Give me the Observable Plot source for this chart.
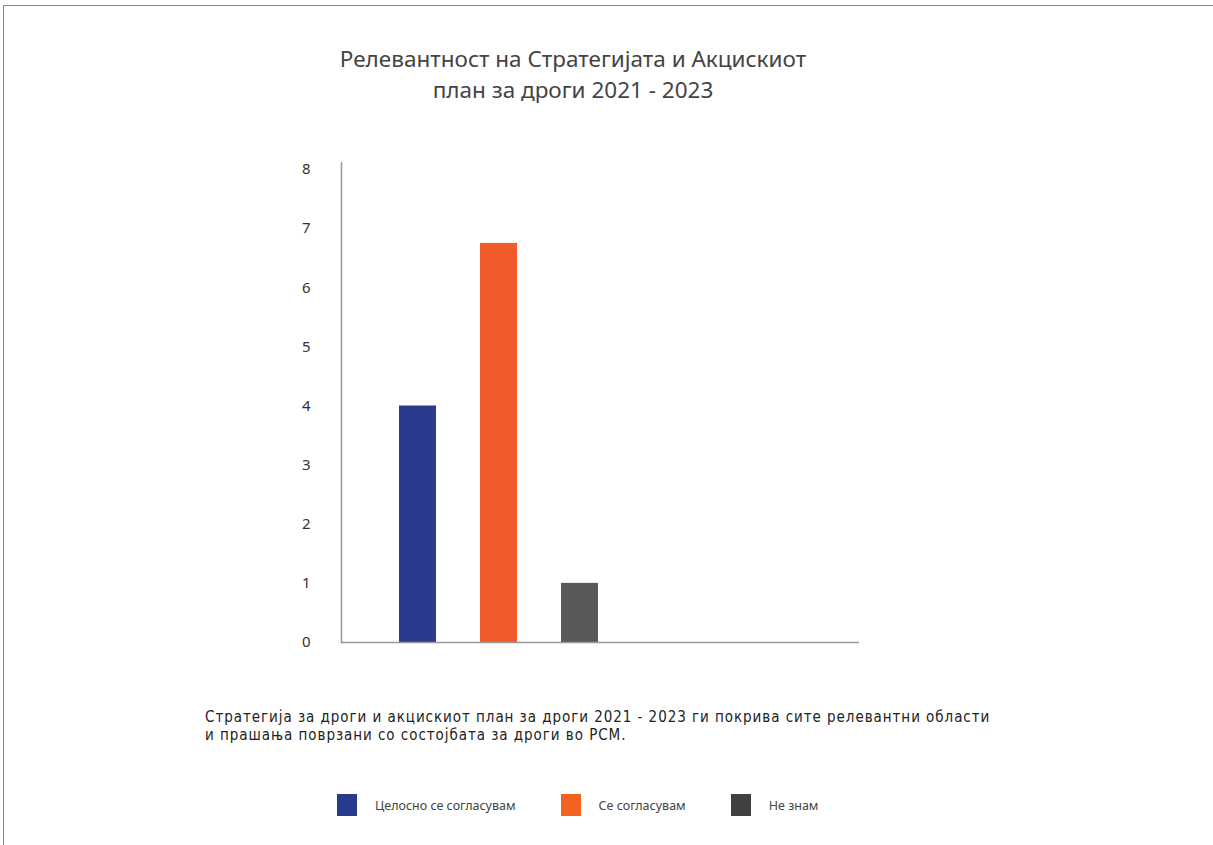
<!DOCTYPE html>
<html><head><meta charset="utf-8">
<script src="https://cdn.jsdelivr.net/npm/d3@7"></script>
<script src="https://cdn.jsdelivr.net/npm/@observablehq/plot@0.6"></script>
<style>
body{margin:0;background:#fff;font-family:"Noto Sans",sans-serif;}
#page{position:relative;width:1213px;height:845px;overflow:hidden;}
#border{position:absolute;left:3px;top:5px;width:1300px;height:900px;border-top:1.5px solid #8a8a8a;border-left:1.5px solid #8a8a8a;}
#chart{position:absolute;left:0;top:0;}
#title{position:absolute;left:0;width:1146px;top:43px;text-align:center;font-size:22.5px;line-height:31px;color:#444;}
#caption{position:absolute;left:205px;top:708px;font-family:"DejaVu Sans Condensed","DejaVu Sans",sans-serif;font-size:15px;letter-spacing:0.95px;line-height:18px;color:#222;white-space:nowrap;}
#legend{position:absolute;left:337px;top:794px;display:flex;align-items:center;font-size:12.5px;color:#444;}
.item{display:flex;align-items:center;margin-right:45px;}
.sw{width:20px;height:22px;margin-right:18px;}
</style></head>
<body>
<div id="page">
<div id="border"></div>
<div id="chart"></div>
<div id="title">Релевантност на Стратегијата и Акцискиот<br>план за дроги 2021 - 2023</div>
<div id="caption">Стратегија за дроги и акцискиот план за дроги 2021 - 2023 ги покрива сите релевантни области<br>и прашања поврзани со состојбата за дроги во РСМ.</div>
<div id="legend"></div>
</div>
<script>
const categories = ["Целосно се согласувам", "Се согласувам", "Не знам"];
const values = [4, 6.75, 1];
const barColors = ["#293a8f", "#f15a2b", "#58595b"];
const legendColors = ["#283a8e", "#f4621f", "#404040"];
const yTicks = [0, 1, 2, 3, 4, 5, 6, 7, 8];

const data = categories.map((c, i) => ({category: c, value: values[i]}));

const W = 1213, H = 700;
const chart = Plot.plot({
  width: W, height: H,
  marginLeft: 341, marginRight: W - 859, marginTop: 162, marginBottom: H - 642,
  style: {fontFamily: "Noto Sans", fontSize: "15px", color: "#333", background: "transparent"},
  x: {type: "band", domain: categories, range: [341, 655], paddingInner: 0.546, paddingOuter: 0.7, axis: null},
  y: {domain: [0, 8], range: [642, 169], axis: null},
  color: {domain: categories, range: barColors},
  marks: [
    Plot.barY(data, {x: "category", y: "value", fill: "category"}),
    Plot.axisY({ticks: yTicks, tickSize: 0, tickPadding: 31, tickFormat: d => String(d), fill: "#333", label: null}),
    Plot.frame({anchor: "left", stroke: "#999", strokeWidth: 1.5}),
    Plot.ruleY([0], {stroke: "#999", strokeWidth: 1.5})
  ]
});
document.getElementById("chart").appendChild(chart);

const legend = d3.select("#legend");
categories.forEach((c, i) => {
  const it = legend.append("div").attr("class", "item");
  it.append("div").attr("class", "sw").style("background", legendColors[i]);
  it.append("span").text(c);
});
</script>
</body></html>
